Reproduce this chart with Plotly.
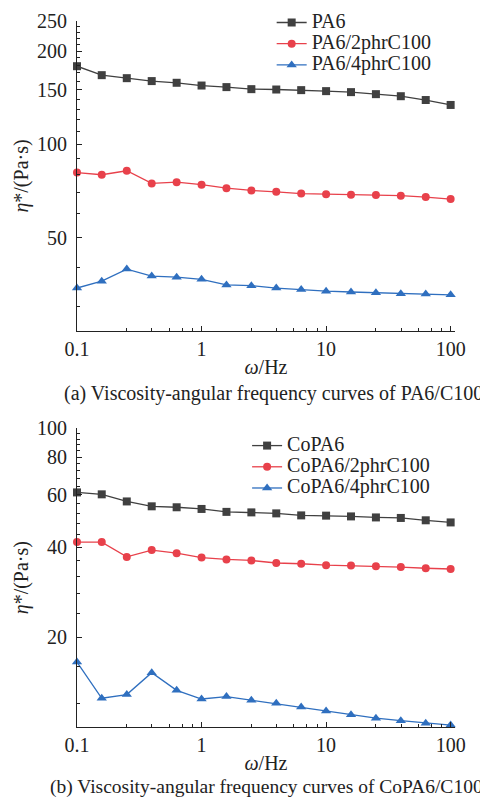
import plotly.graph_objects as go

# ---- data ----
omega = [0.1, 0.158, 0.251, 0.398, 0.631, 1.0, 1.585, 2.512, 3.981, 6.31,
         10.0, 15.85, 25.12, 39.81, 63.1, 100.0]

pa6 = [178.7, 167.2, 163.5, 160.0, 158.0, 154.8, 153.0, 150.7, 150.3, 149.6,
       148.5, 147.4, 145.2, 143.0, 139.0, 134.0]
pa6_2phr = [81.1, 79.8, 82.2, 74.8, 75.5, 74.1, 72.2, 71.0, 70.3, 69.4,
            69.1, 68.8, 68.6, 68.3, 67.6, 66.6]
pa6_4phr = [34.4, 36.2, 39.6, 37.6, 37.3, 36.7, 35.2, 35.0, 34.4, 34.0,
            33.6, 33.4, 33.2, 33.0, 32.9, 32.7]

copa6 = [61.0, 60.1, 56.9, 54.8, 54.4, 53.7, 52.5, 52.3, 51.9, 51.1,
         51.0, 50.7, 50.3, 50.1, 49.2, 48.4]
copa6_2phr = [41.6, 41.6, 37.1, 39.1, 38.2, 36.9, 36.4, 36.1, 35.4, 35.2,
              34.8, 34.7, 34.5, 34.3, 34.0, 33.8]
copa6_4phr = [16.5, 12.48, 12.84, 15.2, 13.27, 12.41, 12.64, 12.29, 12.0, 11.67,
              11.31, 11.0, 10.7, 10.5, 10.3, 10.15]

names_top = ["PA6", "PA6/2phrC100", "PA6/4phrC100"]
names_bot = ["CoPA6", "CoPA6/2phrC100", "CoPA6/4phrC100"]

x_ticks = [0.1, 1, 10, 100]
x_ticklabels = ["0.1", "1", "10", "100"]
x_minor = [0.25, 0.4, 0.55, 0.7, 0.85, 2.5, 4, 5.5, 7, 8.5, 25, 40, 55, 70, 85]
y1_ticks = [50, 100, 150, 200, 250]
y1_minor = [30, 40, 60, 70, 80, 90, 110, 120, 130, 140, 160, 170, 180, 190,
            210, 220, 230, 240]
y2_ticks = [20, 40, 60, 80, 100]
y2_minor = [12, 16, 24, 28, 32, 36, 44, 48, 52, 56, 64, 68, 72, 76, 84, 88, 92, 96]

# ---- styles ----
FONT = "Liberation Serif"
INK = "#222222"
colors = ["#404040", "#e8414b", "#2f6fbf"]
symbols = ["square", "circle", "triangle-up"]
sizes = [8, 8, 9]


def legend_label(name):
    return '<span style="font-size:20px">' + name + '</span>'


fig = go.Figure()

for series, name, c, s, sz in zip([pa6, pa6_2phr, pa6_4phr], names_top, colors, symbols, sizes):
    fig.add_trace(go.Scatter(
        x=omega, y=series, name=legend_label(name), mode="lines+markers",
        xaxis="x", yaxis="y", legend="legend", cliponaxis=False,
        line=dict(color=c, width=1.3),
        marker=dict(symbol=s, size=sz, color=c),
    ))

for series, name, c, s, sz in zip([copa6, copa6_2phr, copa6_4phr], names_bot, colors, symbols, sizes):
    fig.add_trace(go.Scatter(
        x=omega, y=series, name=legend_label(name), mode="lines+markers",
        xaxis="x2", yaxis="y2", legend="legend2", cliponaxis=False,
        line=dict(color=c, width=1.3),
        marker=dict(symbol=s, size=sz, color=c),
    ))

axis_common = dict(
    showline=True, linecolor=INK, linewidth=1.2, mirror=False,
    showgrid=False, zeroline=False,
    ticks="inside", ticklen=5, tickwidth=1, tickcolor=INK,
    tickfont=dict(family=FONT, size=20, color=INK),
)

xaxis_cfg = dict(
    type="log", range=[-1, 2.035],
    tickmode="array", tickvals=x_ticks, ticktext=x_ticklabels,
    minor=dict(tickmode="array", tickvals=x_minor, ticks="inside",
               ticklen=3, tickcolor=INK, showgrid=False),
    title=dict(text="<i>ω</i>/Hz", font=dict(family=FONT, size=20, color=INK),
               standoff=0),
    **axis_common,
)

ytitle = dict(text="<i>η</i>*/(Pa·s)", font=dict(family=FONT, size=20, color=INK),
              standoff=2)

# the page body adds an 8px offset, so the figure is 8px smaller than the window
fig.update_layout(
    width=480, height=790,
    margin=dict(l=69, r=33, t=13, b=71, autoexpand=False),
    paper_bgcolor="white", plot_bgcolor="white",
    font=dict(family=FONT, size=20, color=INK),
    xaxis=dict(domain=[0, 1], anchor="y", **xaxis_cfg),
    yaxis=dict(
        domain=[0.5609, 1], anchor="x", type="log",
        range=[1.39794, 2.39794],
        tickmode="array", tickvals=y1_ticks, ticktext=[str(v) for v in y1_ticks],
        minor=dict(tickmode="array", tickvals=y1_minor, ticks="inside",
                   ticklen=3, tickcolor=INK, showgrid=False),
        ticklabelstandoff=5,
        title=ytitle, **axis_common,
    ),
    xaxis2=dict(domain=[0, 1], anchor="y2", **xaxis_cfg),
    yaxis2=dict(
        domain=[0.0, 0.4231], anchor="x2", type="log",
        range=[1, 2],
        tickmode="array", tickvals=y2_ticks, ticktext=[str(v) for v in y2_ticks],
        minor=dict(tickmode="array", tickvals=y2_minor, ticks="inside",
                   ticklen=3, tickcolor=INK, showgrid=False),
        ticklabelstandoff=5,
        title=ytitle, **axis_common,
    ),
    legend=dict(
        x=0.515, y=1.02, xanchor="left", yanchor="top",
        bgcolor="rgba(0,0,0,0)", borderwidth=0,
        font=dict(family=FONT, size=14, color=INK),
        tracegroupgap=0,
    ),
    legend2=dict(
        x=0.45, y=0.4207, xanchor="left", yanchor="top",
        bgcolor="rgba(0,0,0,0)", borderwidth=0,
        font=dict(family=FONT, size=14, color=INK),
        tracegroupgap=0,
    ),
    annotations=[
        dict(text="(a) Viscosity-angular frequency curves of PA6/C100",
             xref="paper", yref="paper", x=0.52, y=0.473,
             xanchor="center", yanchor="middle", showarrow=False,
             font=dict(family=FONT, size=20, color=INK)),
        dict(text="(b) Viscosity-angular frequency curves of CoPA6/C100",
             xref="paper", yref="paper", x=-0.0767, y=-0.085,
             xanchor="left", yanchor="middle", showarrow=False,
             font=dict(family=FONT, size=19.5, color=INK)),
    ],
    showlegend=True,
)

fig.write_html("out.html")
